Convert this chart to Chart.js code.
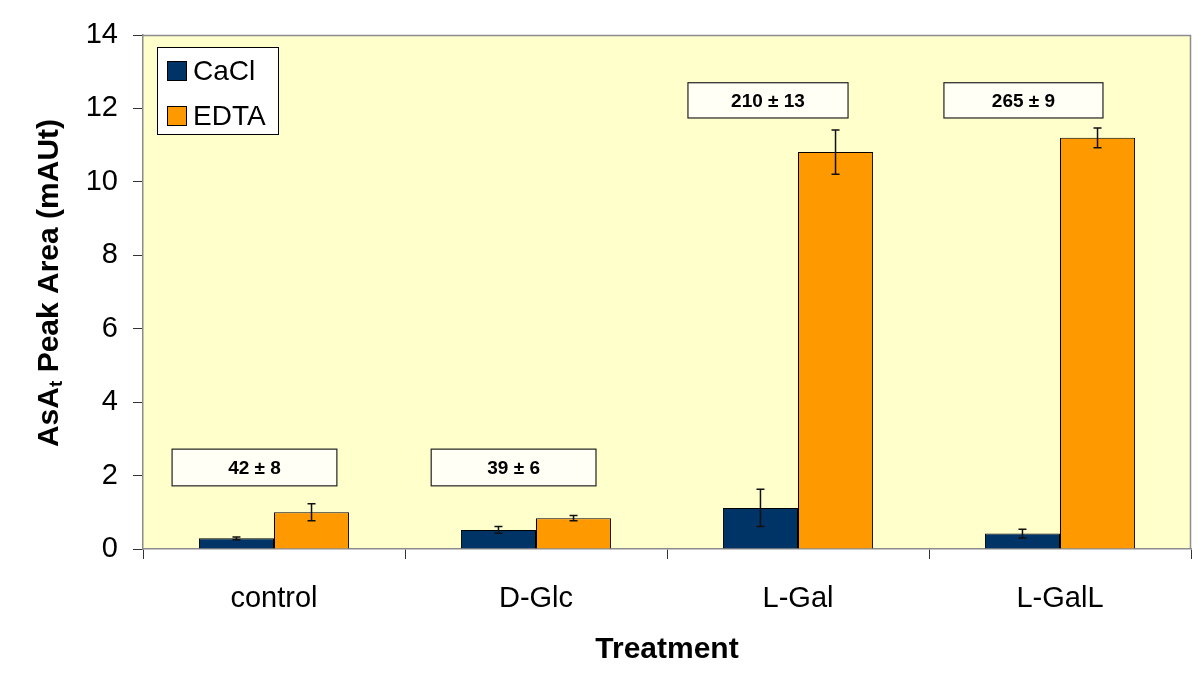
<!DOCTYPE html>
<html>
<head>
<meta charset="utf-8">
<script src="https://cdn.jsdelivr.net/npm/chart.js@4/dist/chart.umd.min.js"></script>
<style>
  body { margin: 0; background: #fff; }
</style>
</head>
<body>
<canvas id="myChart" width="1198" height="691"></canvas>
<script>
/* DATA */
var treatments = ['control', 'D-Glc', 'L-Gal', 'L-GalL'];
var cacl = [0.29, 0.52, 1.12, 0.42];
var caclErr = [0.04, 0.09, 0.51, 0.12];
var edta = [1.0, 0.84, 10.81, 11.2];
var edtaErr = [0.23, 0.07, 0.6, 0.27];
var yTicks = [0, 2, 4, 6, 8, 10, 12, 14];
var boxTexts = ['42 \u00b1 8', '39 \u00b1 6', '210 \u00b1 13', '265 \u00b1 9'];
var boxTop = [2.72, 2.72, 12.7, 12.7];
var boxBottom = [1.72, 1.72, 11.74, 11.74];
/* DATA */

// box left/right edges, in category units relative to category centre
var boxSpan = [[-0.389, 0.240], [-0.400, 0.229], [-0.420, 0.191], [-0.443, 0.164]];

var FONT = "'Liberation Sans', Arial, sans-serif";

var plotBg = {
    id: 'plotBg',
    beforeDraw: function(chart) {
        var ctx = chart.ctx, a = chart.chartArea;
        ctx.save();
        ctx.fillStyle = '#FFFFCC';
        ctx.fillRect(a.left, a.top, a.right - a.left, a.bottom - a.top);
        ctx.strokeStyle = '#8c8c8c';
        ctx.lineWidth = 1.5;
        ctx.beginPath();
        ctx.moveTo(a.left, a.top + 0.5);
        ctx.lineTo(a.right - 0.5, a.top + 0.5);
        ctx.lineTo(a.right - 0.5, a.bottom);
        ctx.stroke();
        ctx.restore();
    }
};

var extras = {
    id: 'extras',
    afterDatasetsDraw: function(chart) {
        var ctx = chart.ctx;
        var x = chart.scales.x, y = chart.scales.y;
        ctx.save();
        // error bars
        var errs = [caclErr, edtaErr];
        ctx.strokeStyle = '#111';
        ctx.lineWidth = 1.5;
        for (var d = 0; d < 2; d++) {
            var meta = chart.getDatasetMeta(d);
            meta.data.forEach(function(bar, i) {
                var v = chart.data.datasets[d].data[i];
                var yt = y.getPixelForValue(v + errs[d][i]);
                var yb = y.getPixelForValue(v - errs[d][i]);
                ctx.beginPath();
                ctx.moveTo(bar.x, yt); ctx.lineTo(bar.x, yb);
                ctx.moveTo(bar.x - 4, yt); ctx.lineTo(bar.x + 4, yt);
                ctx.moveTo(bar.x - 4, yb); ctx.lineTo(bar.x + 4, yb);
                ctx.stroke();
            });
        }
        // annotation boxes
        var cw = x.getPixelForValue(1) - x.getPixelForValue(0);
        boxTexts.forEach(function(t, i) {
            var c = x.getPixelForValue(i);
            var l = c + boxSpan[i][0] * cw, r = c + boxSpan[i][1] * cw;
            var top = y.getPixelForValue(boxTop[i]), bot = y.getPixelForValue(boxBottom[i]);
            ctx.fillStyle = '#FFFFF6';
            ctx.fillRect(l, top, r - l, bot - top);
            ctx.strokeStyle = '#222';
            ctx.lineWidth = 1.2;
            ctx.strokeRect(l, top, r - l, bot - top);
            ctx.fillStyle = '#000';
            ctx.font = 'bold 19px ' + FONT;
            ctx.textAlign = 'center';
            ctx.textBaseline = 'middle';
            ctx.fillText(t, (l + r) / 2, (top + bot) / 2 + 1);
        });
        ctx.restore();
    },
    afterDraw: function(chart) {
        var ctx = chart.ctx;
        ctx.save();
        // legend
        ctx.fillStyle = '#fff';
        ctx.fillRect(157, 47, 121, 87);
        ctx.strokeStyle = '#000';
        ctx.lineWidth = 1;
        ctx.strokeRect(157.5, 47.5, 121, 87);
        chart.data.datasets.forEach(function(ds, i) {
            var yy = 61 + i * 45;
            ctx.fillStyle = ds.backgroundColor;
            ctx.fillRect(167, yy, 19, 19);
            ctx.strokeStyle = '#000';
            ctx.strokeRect(167.5, yy + 0.5, 19, 19);
            ctx.fillStyle = '#000';
            ctx.font = '28px ' + FONT;
            ctx.textAlign = 'left';
            ctx.textBaseline = 'middle';
            ctx.fillText(ds.label, 193, yy + 11);
        });
        // y axis title with subscript
        ctx.translate(50, 283);
        ctx.rotate(-Math.PI / 2);
        ctx.fillStyle = '#000';
        ctx.textBaseline = 'middle';
        ctx.textAlign = 'left';
        var p1 = 'AsA', sub = 't', p2 = ' Peak Area (mAUt)';
        ctx.font = 'bold 30px ' + FONT;
        var w1 = ctx.measureText(p1).width, w3 = ctx.measureText(p2).width;
        ctx.font = 'bold 19px ' + FONT;
        var w2 = ctx.measureText(sub).width;
        var x0 = -(w1 + w2 + w3) / 2;
        ctx.font = 'bold 30px ' + FONT;
        ctx.fillText(p1, x0, 0);
        ctx.font = 'bold 19px ' + FONT;
        ctx.fillText(sub, x0 + w1, 7);
        ctx.font = 'bold 30px ' + FONT;
        ctx.fillText(p2, x0 + w1 + w2, 0);
        ctx.restore();
    }
};

var config = {
    type: 'bar',
    data: {
        labels: treatments,
        datasets: [
            { label: 'CaCl', data: cacl, backgroundColor: '#003366', borderColor: '#000', borderWidth: 1 },
            { label: 'EDTA', data: edta, backgroundColor: '#FF9900', borderColor: '#000', borderWidth: 1 }
        ]
    },
    options: {
        responsive: false,
        animation: false,
        events: [],
        layout: { padding: { top: 35, right: 7, left: 0, bottom: 0 } },
        datasets: { bar: { categoryPercentage: 0.573, barPercentage: 1.0 } },
        plugins: { legend: { display: false }, tooltip: { enabled: false } },
        scales: {
            x: {
                grid: { offset: true, drawOnChartArea: false, tickLength: 10, color: '#333', lineWidth: 1 },
                border: { color: '#8c8c8c', width: 1.5 },
                ticks: { color: '#000', font: { family: FONT, size: 29 }, padding: 23 },
                title: { display: true, text: 'Treatment', color: '#000', font: { family: FONT, size: 30, weight: 'bold' }, padding: { top: 4, bottom: 23 } },
                afterFit: function(s) { s.height = 142; }
            },
            y: {
                min: 0, max: 14,
                afterBuildTicks: function(s) { s.ticks = yTicks.map(function(v) { return { value: v }; }); },
                grid: { drawOnChartArea: false, tickLength: 10, color: '#333', lineWidth: 1 },
                border: { color: '#8c8c8c', width: 1.5 },
                ticks: { color: '#000', font: { family: FONT, size: 29 }, padding: 15 },
                afterFit: function(s) { s.width = 143; }
            }
        }
    },
    plugins: [plotBg, extras]
};

window.onload = function() {
    var ctx = document.getElementById('myChart').getContext('2d');
    window.myChart = new Chart(ctx, config);
};
</script>
</body>
</html>
